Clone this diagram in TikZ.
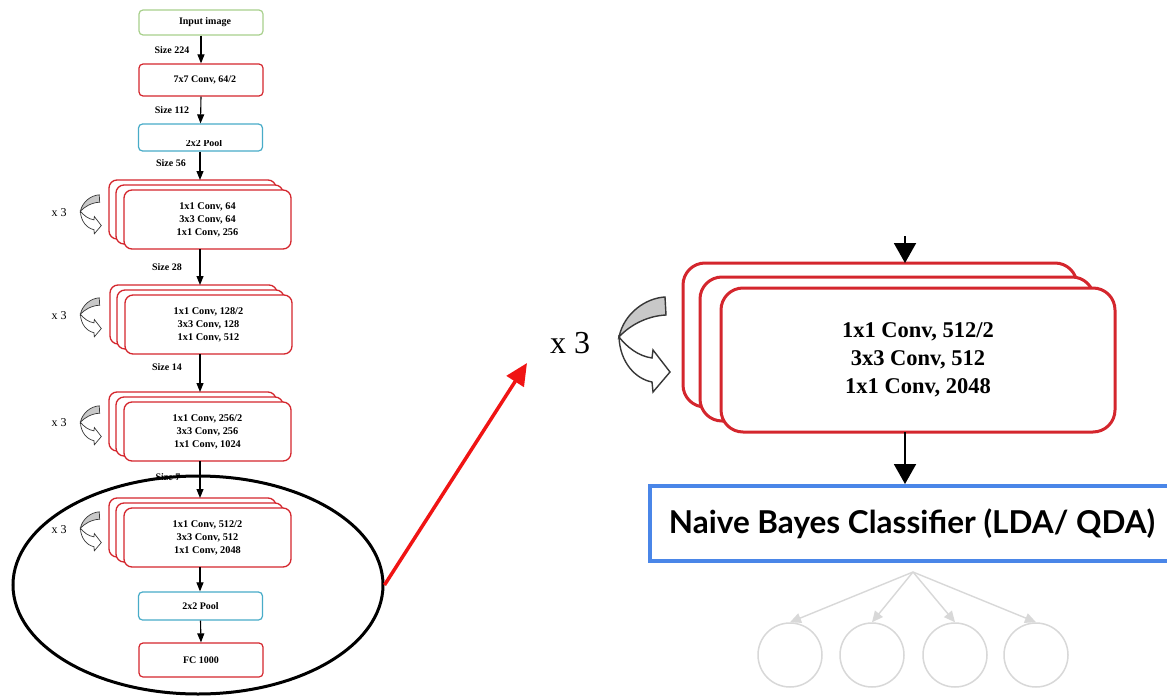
\documentclass[tikz,border=0pt]{standalone}
\usepackage{fontspec}
\setmainfont{Liberation Serif}
\newfontfamily\latofont{Lato}
\usetikzlibrary{arrows.meta,shapes.geometric}
\definecolor{convred}{RGB}{212,38,45}
\definecolor{inpgreen}{RGB}{168,208,140}
\definecolor{poolcyan}{RGB}{72,172,200}
\definecolor{nbblue}{RGB}{74,134,232}
\definecolor{treegrey}{RGB}{216,216,216}
\definecolor{icongrey}{RGB}{200,200,200}
\definecolor{icondark}{RGB}{55,55,55}
\definecolor{bigred}{RGB}{240,20,20}
\newcommand\repicon[4]{\begin{scope}[shift={(#1,#2)},scale=#3,line width=#4]
 \filldraw[fill=icongrey,draw=icondark] (47,2) .. controls (28,3) and (6,18) .. (1,42) .. controls (10,32) and (27,21) .. (48,20) -- cycle;
 \filldraw[fill=white,draw=icondark] (1,42) .. controls (2,68) and (18,84) .. (34,87) -- (35,97) -- (52,77) -- (35,55) -- (34,63) .. controls (20,61) and (9,52) .. (1,42) -- cycle;
\end{scope}}
\newcommand\smallstack[4]{%
 \node[sback,anchor=north west] (#1o) at ({#2-15},{#3-10}) {};
 \node[sback,anchor=north west] (#1m) at ({#2-8},{#3-5}) {};
 \node[sback,anchor=north west,font=\bfseries\fontsize{10.3}{13}\selectfont,align=center] (#1) at (#2,#3) {#4};}
\tikzset{
 simplebox/.style={draw, line width=1.2pt, rounded corners=4pt, fill=white, minimum width=124pt, inner sep=0pt, font=\bfseries\fontsize{10}{12}\selectfont},
 sback/.style={draw=convred, line width=1.3pt, fill=white, rounded corners=8pt, minimum width=167pt, minimum height=59pt, inner sep=0pt, outer sep=0pt},
 bback/.style={draw=convred, line width=3pt, fill=white, rounded corners=22pt, minimum width=394pt, minimum height=144pt, inner sep=0pt, outer sep=0pt},
 sizelbl/.style={font=\bfseries\fontsize{10}{12}\selectfont, inner sep=0pt},
 timeslbl/.style={font=\fontsize{12}{12}\selectfont, inner sep=0pt},
 sarrow/.style={draw=black, line width=1.1pt, -{Triangle[length=9pt,width=7pt]}},
 barrow/.style={draw=black, line width=2pt, -{Triangle[length=20pt,width=22pt]}},
 treearrow/.style={draw=treegrey, line width=1.4pt, -{Triangle[length=11pt,width=10pt]}},
 treecircle/.style={draw=treegrey, line width=1.5pt, circle, minimum size=64pt, inner sep=0pt},
}
\begin{document}
\begin{tikzpicture}[x=1pt,y=-1pt]
\useasboundingbox (0,0) rectangle (1167,696);
\clip (0,0) rectangle (1167,696);
\fill[white] (0,0) rectangle (1167,696);
\coordinate (axis) at (200,0);
% ---------- left column ----------
\node[simplebox, draw=inpgreen, minimum height=25pt] (inp) at (201,22.5) {\hspace*{8pt}Input image};
\node[simplebox, draw=convred, minimum height=32pt] (conv1) at (201,80) {\hspace*{8pt}7x7 Conv, 64/2};
\node[simplebox, draw=poolcyan, minimum height=27pt] (pool1) at (200.5,137.5) {};
\begin{scope}
\clip (140,140) rectangle (262,150);
\node[sizelbl] (pool1txt) at (204,143.5) {2x2 Pool};
\end{scope}
\smallstack{b1}{124}{190}{1x1 Conv, 64\\3x3 Conv, 64\\1x1 Conv, 256}
\smallstack{b2}{125}{295}{1x1 Conv, 128/2\\3x3 Conv, 128\\1x1 Conv, 512}
\smallstack{b3}{124}{402}{1x1 Conv, 256/2\\3x3 Conv, 256\\1x1 Conv, 1024}
\smallstack{b4}{124}{508}{1x1 Conv, 512/2\\3x3 Conv, 512\\1x1 Conv, 2048}
\node[simplebox, draw=poolcyan, minimum height=28pt] (pool2) at (200.5,606) {2x2 Pool};
\node[simplebox, draw=convred, minimum height=34pt] (fc) at (201,660) {FC 1000};
% arrows
\draw[sarrow] (inp.south) -- (conv1.north);
\draw[sarrow] (conv1.south) -- (pool1.north);
\draw[sarrow] (axis |- pool1.south) -- (axis |- b1o.north);
\draw[sarrow] (axis |- b1.south) -- (axis |- b2o.north);
\draw[sarrow] (axis |- b2.south) -- (axis |- b3o.north);
\draw[sarrow] (axis |- b3.south) -- (axis |- b4o.north);
\draw[sarrow] (axis |- b4.south) -- (axis |- pool2.north);
\draw[sarrow] (pool2.south) -- (fc.north);
% size labels
\node[sizelbl] (s224) at (172,50) {Size 224};
\node[sizelbl] (s112) at (172,110) {Size 112};
\node[sizelbl] (s56) at (171,163) {Size 56};
\node[sizelbl] (s28) at (167,267) {Size 28};
\node[sizelbl] (s14) at (167,367) {Size 14};
\node[sizelbl] (s7) at (168,477) {Size 7};
% x3 labels and icons
\node[timeslbl] (t1) at (59,213) {x 3};
\node[timeslbl] (t2) at (59,316) {x 3};
\node[timeslbl] (t3) at (59,423) {x 3};
\node[timeslbl] (t4) at (59,530) {x 3};
\repicon{80}{194}{0.41}{0.7pt}
\repicon{80}{297}{0.41}{0.7pt}
\repicon{80}{405}{0.41}{0.7pt}
\repicon{80}{511}{0.41}{0.7pt}
% ellipse
\node[draw=black, line width=3pt, ellipse, minimum width=370pt, minimum height=218pt, inner sep=0pt] (ell) at (198,585) {};
% red arrow
\coordinate (rtip) at (527,363);
\draw[draw=bigred, line width=3.5pt, -{Triangle[length=22pt,width=20pt]}] (ell.east) -- (rtip);
% ---------- right part ----------
\node[bback, anchor=north west] (bo) at (683,263) {};
\node[bback, anchor=north west] (bm) at (700,277) {};
\node[bback, anchor=north west, font=\bfseries\fontsize{22.5}{28}\selectfont, align=center] (bf) at (721,288) {1x1 Conv, 512/2\\3x3 Conv, 512\\1x1 Conv, 2048};
\node[font=\fontsize{32}{32}\selectfont, inner sep=0pt] (tbig) at (570,343) {x 3};
\repicon{618}{295}{1}{1.4pt}
\coordinate (btop) at (905,236);
\draw[barrow] (btop) -- (btop |- bo.north);
\node[draw=nbblue, line width=4pt, minimum width=524pt, minimum height=75pt, inner sep=0pt, font=\latofont\bfseries\fontsize{31.5}{36}\selectfont] (nb) at (912,523.5) {Naive Bayes Classifier (LDA/ QDA)};
\draw[barrow] (btop |- bf.south) -- (btop |- nb.north);
% tree
\coordinate (root) at (913,572);
\node[treecircle] (c1) at (790,655) {};
\node[treecircle] (c2) at (872,655) {};
\node[treecircle] (c3) at (955,655) {};
\node[treecircle] (c4) at (1036,655) {};
\draw[treearrow] (root) -- (c1.north);
\draw[treearrow] (root) -- (c2.north);
\draw[treearrow] (root) -- (c3.north);
\draw[treearrow] (root) -- (c4.north);
\end{tikzpicture}
\end{document}
